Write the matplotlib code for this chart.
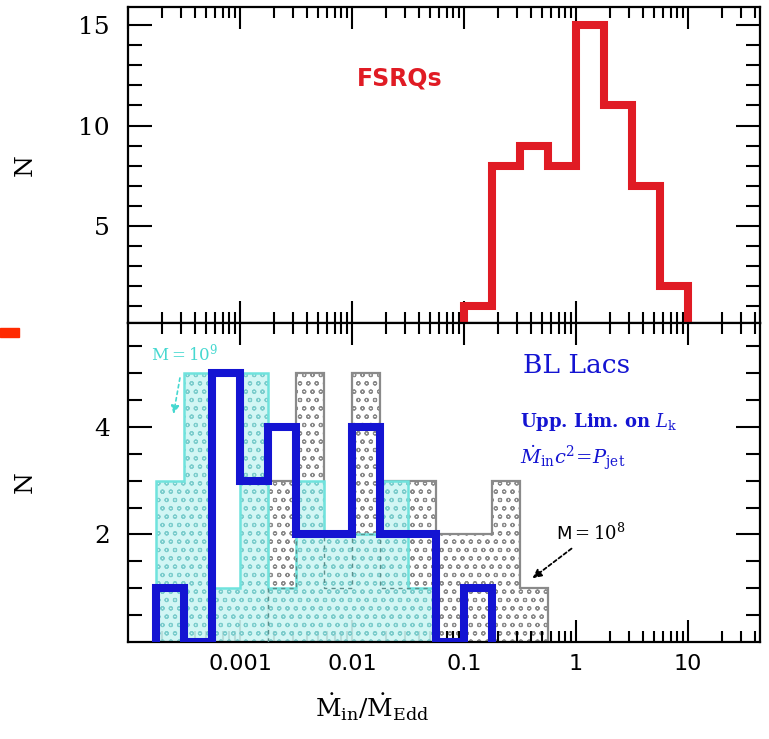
import numpy as np
import matplotlib
matplotlib.use('Agg')
import matplotlib.pyplot as plt
from matplotlib.patches import Rectangle

plt.rcParams['hatch.linewidth'] = 0.8
plt.rcParams['mathtext.fontset'] = 'dejavuserif'

# FSRQs (top panel), bins of 0.25 dex in log(Mdot_in/Mdot_Edd)
fsrq_log_edges = [-1.0, -0.75, -0.5, -0.25, 0.0, 0.25, 0.5, 0.75, 1.0]
fsrq_counts = [1, 8, 9, 8, 15, 11, 7, 2]

# BL Lacs, thick blue histogram
bll_log_edges = [-3.75, -3.5, -3.25, -3.0, -2.75, -2.5, -2.25, -2.0, -1.75, -1.5, -1.25, -1.0, -0.75]
bll_counts = [1, 0, 5, 3, 4, 2, 2, 4, 2, 2, 0, 1]

# upper limits, M = 10^9 (cyan)
m9_log_edges = [-3.75, -3.5, -3.25, -3.0, -2.75, -2.5, -2.25, -2.0, -1.75, -1.5, -1.25]
m9_counts = [3, 5, 1, 5, 1, 3, 2, 2, 3, 1]

# upper limits, M = 10^8 (grey)
m8_log_edges = [-2.75, -2.5, -2.25, -2.0, -1.75, -1.5, -1.25, -1.0, -0.75, -0.5, -0.25]
m8_counts = [3, 5, 2, 5, 3, 3, 2, 2, 3, 1]

# dashed outline in the low part
dash_log_edges = [-2.75, -2.5, -2.25, -2.0, -1.75, -1.5, -1.25]
dash_counts = [1, 2, 1, 2, 1, 1]

xticks = [0.001, 0.01, 0.1, 1, 10]
xticklabels = ['0.001', '0.01', '0.1', '1', '10']

red = '#e01b24'
blue = '#1414d2'
cyan_line = '#6fe3dd'
cyan_fill = '#cdf6f3'
cyan_hatch = '#74c9c9'
grey_line = '#8a8a8a'

fig = plt.figure(figsize=(7.69, 7.39), dpi=100)
L, R = 128 / 769, 760 / 769
ax1 = fig.add_axes([L, 1 - 323 / 739, R - L, (323 - 7) / 739])
ax2 = fig.add_axes([L, 1 - 642 / 739, R - L, (642 - 323) / 739])

# top panel
ax1.stairs(fsrq_counts, 10 ** np.array(fsrq_log_edges), baseline=0,
           color=red, linewidth=5.8, zorder=3)
ax1.text(0.43, 0.775, 'FSRQs', transform=ax1.transAxes, color=red,
         fontsize=17, fontweight='bold', ha='center', va='center')

# bottom panel
m8e = 10 ** np.array(m8_log_edges)
m9e = 10 ** np.array(m9_log_edges)
ax2.stairs(m8_counts, m8e, baseline=0, fill=True, facecolor='white',
           edgecolor=grey_line, hatch='oo', linewidth=0, zorder=1)
ax2.stairs(m8_counts, m8e, baseline=0, color=grey_line, linewidth=1.6, zorder=1.5)
ax2.stairs(m9_counts, m9e, baseline=0, fill=True, facecolor=cyan_fill,
           edgecolor=cyan_hatch, hatch='oo', linewidth=0, alpha=0.9, zorder=2)
ax2.stairs(m9_counts, m9e, baseline=0, color=cyan_line, linewidth=1.8, zorder=2.5)
ax2.stairs(dash_counts, 10 ** np.array(dash_log_edges), baseline=0,
           color='#5a8f8c', linewidth=1.0, linestyle=(0, (3, 3)), zorder=2.6)
ax2.stairs(bll_counts, 10 ** np.array(bll_log_edges), baseline=0,
           color=blue, linewidth=5.8, zorder=3)

ax2.text(0.625, 0.868, 'BL Lacs', transform=ax2.transAxes, color=blue,
         fontsize=19, family='DejaVu Serif', ha='left', va='center')
ax2.text(0.62, 0.69, r'Upp. Lim. on $L_{\rm k}$', transform=ax2.transAxes,
         color=blue, fontsize=13, fontweight='bold', family='DejaVu Serif',
         ha='left', va='center')
ax2.text(0.62, 0.577, r'$\dot{M}_{\rm in}c^{2}\!=\!P_{\rm jet}$', transform=ax2.transAxes,
         color=blue, fontsize=14, ha='left', va='center')

ax2.annotate(r'M$=10^9$', xy=(0.072, 0.715), xytext=(0.036, 0.905),
             xycoords='axes fraction', textcoords='axes fraction',
             color='#45d8d0', fontsize=12, family='DejaVu Serif', va='center',
             arrowprops=dict(arrowstyle='-|>', color='#45d8d0', lw=1.2,
                             linestyle=(0, (2, 2)), shrinkA=8, shrinkB=0))
ax2.annotate(r'M$=10^8$', xy=(0.64, 0.2), xytext=(0.678, 0.34),
             xycoords='axes fraction', textcoords='axes fraction',
             color='black', fontsize=13, family='DejaVu Sans', va='center',
             arrowprops=dict(arrowstyle='-|>', color='black', lw=1.3,
                             linestyle=(0, (2, 1.5)), shrinkA=2, shrinkB=0))

for ax in (ax1, ax2):
    ax.set_xscale('log')
    ax.set_xlim(1e-4, 44)
    ax.tick_params(which='both', direction='in', top=True, right=True, width=1.5)
    ax.tick_params(which='major', length=16)
    ax.tick_params(which='minor', length=8)
    ax.tick_params(axis='y', which='major', length=17, pad=13)
    ax.tick_params(axis='y', which='minor', length=10)
    for s in ax.spines.values():
        s.set_linewidth(1.6)
    ax.set_ylabel('N', fontsize=18, family='DejaVu Serif', labelpad=0)
    ax.yaxis.set_label_coords(-0.145, 0.5)

ax1.set_ylim(0.17, 15.9)
ax1.set_yticks([5, 10, 15])
ax1.set_yticks(np.arange(1, 16), minor=True)
ax1.tick_params(axis='x', which='both', labelbottom=False)

ax2.set_ylim(0, 5.93)
ax2.set_yticks([2, 4])
ax2.set_yticks(np.arange(0.5, 6, 0.5), minor=True)
ax2.set_xticks(xticks)
ax2.set_xticklabels(xticklabels)
ax2.tick_params(axis='x', which='major', pad=9)
ax2.tick_params(axis='x', which='minor', labelbottom=False)

for lab in ax1.get_yticklabels() + ax2.get_yticklabels():
    lab.set_family('DejaVu Serif')
    lab.set_fontsize(18)
for lab in ax2.get_xticklabels():
    lab.set_family('DejaVu Sans')
    lab.set_fontsize(16)

ax2.set_xlabel(r'$\dot{\rm M}_{\rm in}/\dot{\rm M}_{\rm Edd}$', fontsize=18)
ax2.xaxis.set_label_coords(0.386, -0.155)

fig.patches.append(Rectangle((0, 1 - 337 / 739), 19 / 769, 9 / 739,
                             transform=fig.transFigure, color='#ff2a00'))

fig.savefig('out.png', dpi=100)
